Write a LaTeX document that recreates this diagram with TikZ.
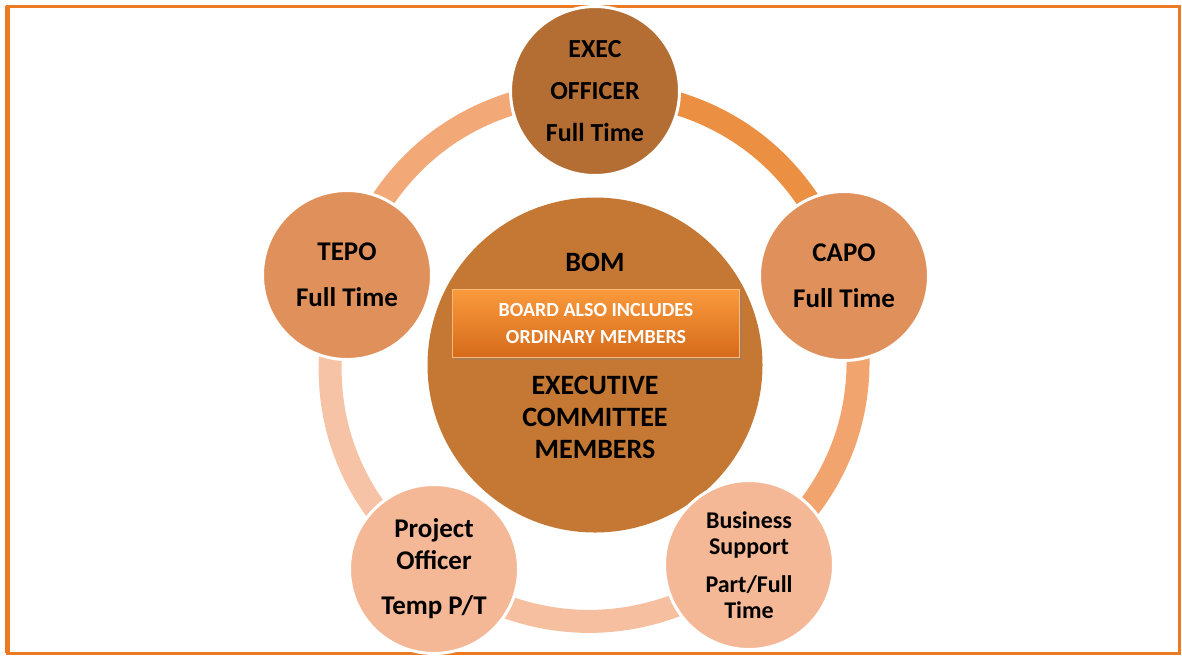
\documentclass[tikz,border=0pt]{standalone}
\usepackage{fontspec}
\setmainfont{Carlito}
\usetikzlibrary{shadows,backgrounds}
\definecolor{cadre}{HTML}{EC7A24}
\definecolor{foncee}{HTML}{B46E34}
\definecolor{moyenne}{HTML}{E0905A}
\definecolor{claire}{HTML}{F4B896}
\definecolor{centre}{HTML}{C47834}
\definecolor{arcA}{HTML}{EB8F43}
\definecolor{arcB}{HTML}{F2A46E}
\definecolor{arcC}{HTML}{F6C0A0}
\definecolor{arcD}{HTML}{F6C3A6}
\definecolor{arcE}{HTML}{F2A877}
\definecolor{hautboite}{HTML}{FA9A3C}
\definecolor{basboite}{HTML}{D56B1B}

\begin{document}
\begin{tikzpicture}[x=0.5pt,y=-0.5pt]
%stylesdescercles
\tikzstyle{poste}=[circle,minimum size=84.5pt,inner sep=0pt,draw=white,line width=1.5pt,
align=center,text=black,font={\fontsize{13}{21}\selectfont\bfseries}]
\tikzstyle{titre}=[align=center,text=black,font={\fontsize{14}{16}\selectfont\bfseries}]
\tikzstyle{boite}=[rectangle,minimum width=143.5pt,minimum height=34pt,draw=hautboite!70!white,
top color=hautboite,bottom color=basboite,text=white,align=center,
font={\fontsize{10}{13.5}\selectfont\bfseries},
drop shadow={opacity=0.35,shadow xshift=1pt,shadow yshift=-1.5pt}]
%styledesarcs
\tikzstyle{anneau}=[line width=11.5pt,bend left=36]
\useasboundingbox (0,0) rectangle (1182,655);
\draw[cadre,line width=1.5pt] (7,6) rectangle (1179,653);
\draw[cadre,line width=2.5pt] (7,6) -- (7,653);
%placementdescercles
\node[circle,minimum size=167.5pt,inner sep=0pt,fill=centre] (bom) at (595,365) {};
\node[titre] (bomtitre) at (595,262) {BOM};
\node[boite] (membres) at (596,323) {BOARD ALSO INCLUDES\\ORDINARY MEMBERS};
\node[titre] (comite) at (595,417) {EXECUTIVE\\COMMITTEE\\MEMBERS};
\node[poste,fill=foncee] (exec) at (595,91) {EXEC\\OFFICER\\Full Time};
\node[poste,fill=moyenne,font={\fontsize{13.5}{23}\selectfont\bfseries}] (capo) at (844,276) {CAPO\\Full Time};
\node[poste,fill=claire,font={\fontsize{12}{13}\selectfont\bfseries}] (bus) at (749,565) {Business\\Support\\[6pt]Part/Full\\Time};
\node[poste,fill=claire,font={\fontsize{13.5}{16}\selectfont\bfseries}] (projet) at (434,569) {Project\\Officer\\[6.5pt]Temp P/T};
\node[poste,fill=moyenne,font={\fontsize{13.5}{23}\selectfont\bfseries}] (tepo) at (347,275) {TEPO\\Full Time};
%placementdesarcs
\begin{scope}[on background layer]
\draw[anneau,arcA] (exec.center) to (capo.center);
\draw[anneau,arcB] (capo.center) to (bus.center);
\draw[anneau,arcC] (bus.center) to (projet.center);
\draw[anneau,arcD] (projet.center) to (tepo.center);
\draw[anneau,arcE] (tepo.center) to (exec.center);
\end{scope}
\end{tikzpicture}
\end{document}
